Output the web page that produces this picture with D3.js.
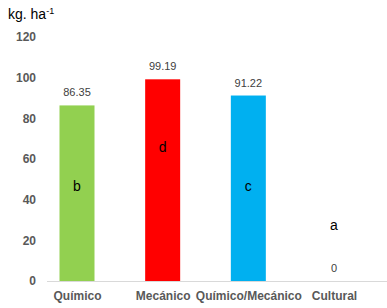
<!DOCTYPE html>
<html>
<head>
<meta charset="utf-8">
<script src="https://cdn.jsdelivr.net/npm/d3@7"></script>
<style>
  body { margin: 0; background: #fff; }
  text { font-family: "Liberation Sans", Arial, sans-serif; }
</style>
</head>
<body>
<svg id="chart" width="387" height="308"></svg>
<script>
var categories = ['Químico', 'Mecánico', 'Químico/Mecánico', 'Cultural'];
var values = [86.35, 99.19, 91.22, 0];
var valueLabels = ['86.35', '99.19', '91.22', '0'];
var letters = ['b', 'd', 'c', 'a'];
var letterLevels = [46.5, 66, 46.5, 27.5];   // where the letter sits, in kg/ha
var colors = ['#92D050', '#FF0000', '#00B0F0', '#FFFFFF'];
var yTicks = [0, 20, 40, 60, 80, 100, 120];

var svg = d3.select('#chart');

// scales
var xScale = d3.scalePoint()
    .domain(categories)
    .range([77, 334]);
var yScale = d3.scaleLinear()
    .domain([0, 120])
    .range([281, 37]);
var barWidth = 35;

// title with superscript
var title = svg.append('text')
    .attr('x', 8)
    .attr('y', 19)
    .attr('font-size', 14)
    .attr('fill', '#000');
title.append('tspan').text('kg. ha');
title.append('tspan').attr('dy', -5).attr('font-size', 9).text('-1');

// y axis (labels only)
var yAxis = d3.axisLeft(yScale).tickValues(yTicks).tickSize(0).tickPadding(0);
var yAxisGroup = svg.append('g')
    .attr('transform', 'translate(36,0)')
    .call(yAxis);
yAxisGroup.select('.domain').remove();
yAxisGroup.selectAll('text')
    .attr('font-family', '"Liberation Sans", Arial, sans-serif')
    .attr('font-size', 12)
    .attr('font-weight', 'bold')
    .attr('fill', '#595959');

// bars
svg.selectAll('rect.bar')
    .data(values)
    .join('rect')
    .attr('class', 'bar')
    .attr('x', (d, i) => xScale(categories[i]) - barWidth / 2)
    .attr('y', d => yScale(d))
    .attr('width', barWidth)
    .attr('height', d => yScale(0) - yScale(d))
    .attr('fill', (d, i) => colors[i]);

// baseline
svg.append('line')
    .attr('x1', 47)
    .attr('x2', 387)
    .attr('y1', yScale(0) + 0.5)
    .attr('y2', yScale(0) + 0.5)
    .attr('stroke', '#d9d9d9')
    .attr('stroke-width', 1);

// x axis labels
var xAxis = d3.axisBottom(xScale).tickSize(0).tickPadding(10);
var xAxisGroup = svg.append('g')
    .attr('transform', `translate(0, ${yScale(0)})`)
    .call(xAxis);
xAxisGroup.select('.domain').remove();
xAxisGroup.selectAll('text')
    .attr('font-family', '"Liberation Sans", Arial, sans-serif')
    .attr('font-size', 12)
    .attr('font-weight', 'bold')
    .attr('fill', '#595959');

// value labels
svg.selectAll('text.val')
    .data(values)
    .join('text')
    .attr('class', 'val')
    .attr('x', (d, i) => xScale(categories[i]))
    .attr('y', d => yScale(d) - 9)
    .attr('text-anchor', 'middle')
    .attr('font-size', 11)
    .attr('fill', '#404040')
    .text((d, i) => valueLabels[i]);

// significance letters
svg.selectAll('text.letter')
    .data(letterLevels)
    .join('text')
    .attr('class', 'letter')
    .attr('x', (d, i) => xScale(categories[i]))
    .attr('y', d => yScale(d))
    .attr('dy', '0.35em')
    .attr('text-anchor', 'middle')
    .attr('font-size', 14)
    .attr('fill', '#000')
    .text((d, i) => letters[i]);
</script>
</body>
</html>
